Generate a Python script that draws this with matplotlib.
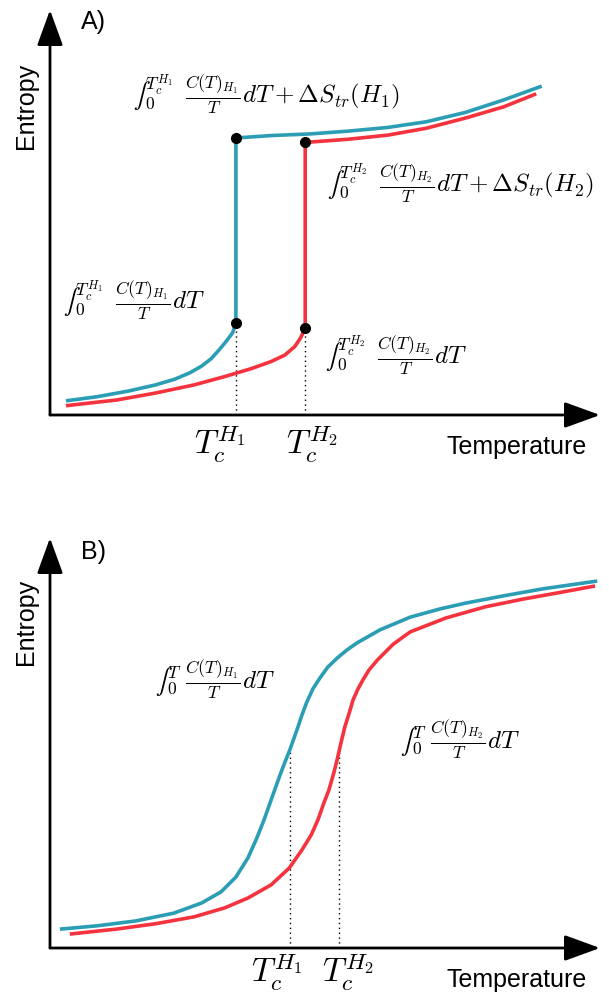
import matplotlib
matplotlib.use('Agg')
import matplotlib.pyplot as plt
import numpy as np

# ---- data (arbitrary units, temperature 0-100, entropy 0-100) ----
# panel A: first-order transition, low-T branch + high-T branch
a_blue_low_T = [2.9, 8.5, 14.2, 19.1, 22.6, 25.4, 27.6, 29.3, 30.7, 32.1, 33.2, 33.8]
a_blue_low_S = [3.5, 4.5, 5.9, 7.4, 8.8, 10.4, 12.1, 13.9, 16.0, 18.3, 20.3, 22.7]
a_blue_high_T = [33.8, 40.2, 47.3, 54.3, 61.4, 68.4, 75.5, 82.5, 89.4]
a_blue_high_S = [68.4, 69.0, 69.4, 70.1, 71.0, 72.4, 74.7, 77.8, 81.2]

a_red_low_T = [2.9, 12.1, 19.1, 26.1, 31.8, 36.7, 40.2, 42.7, 44.5, 45.5, 46.4]
a_red_low_S = [2.3, 3.7, 5.4, 7.4, 9.5, 11.5, 13.2, 14.8, 16.9, 18.9, 21.4]
a_red_high_T = [46.4, 54.3, 61.4, 68.4, 75.5, 82.5, 88.4]
a_red_high_S = [67.3, 68.1, 69.1, 70.8, 73.3, 76.1, 79.3]

# panel B: continuous transition
b_blue_T = [1.8, 8.5, 15.6, 22.5, 27.6, 31.1, 33.8, 36.0, 37.6, 38.9, 40.2, 41.5, 42.5,
            43.6, 44.9, 45.8, 46.7, 47.8, 49.1, 50.5, 52.2, 54.0, 55.8, 60.0, 65.5,
            70.9, 75.5, 82.5, 89.6, 99.5]
b_blue_S = [4.6, 5.4, 6.6, 8.5, 11.0, 13.7, 17.3, 22.0, 26.8, 31.2, 36.1, 41.0, 44.6,
            48.3, 53.2, 56.8, 60.0, 63.2, 65.9, 68.5, 70.7, 72.7, 74.4, 77.6, 80.7,
            82.7, 84.1, 85.9, 87.6, 89.5]
b_red_T = [3.6, 12.0, 19.1, 26.2, 31.8, 36.0, 40.2, 43.5, 45.8, 47.5, 48.7, 49.8, 50.7,
           51.6, 52.2, 52.9, 53.6, 54.4, 55.1, 56.0, 56.9, 58.0, 59.5, 62.4, 65.5,
           72.0, 79.1, 86.0, 93.1, 99.1]
b_red_S = [3.4, 4.6, 5.9, 7.6, 9.8, 12.2, 15.4, 19.5, 23.9, 27.6, 31.2, 35.4, 38.5,
           42.7, 45.9, 50.0, 53.9, 57.3, 60.5, 63.2, 65.4, 67.8, 70.2, 74.1, 77.1,
           80.5, 83.2, 85.1, 86.8, 88.3]
b_tc = [43.6, 52.6]

tc_labels = [r'$T_c^{H_1}$', r'$T_c^{H_2}$']

blue = '#2b9db4'
red = '#f5333f'

plt.rcParams['font.family'] = ['Liberation Sans', 'DejaVu Sans']
plt.rcParams['mathtext.fontset'] = 'cm'

W, H = 609, 996
fig = plt.figure(figsize=(W / 100, H / 100), dpi=100)


def px(x, y):
    # pixel position -> figure fraction
    return x / W, 1 - y / H


def axis_arrows(ax):
    ap = dict(arrowstyle='-|>,head_length=1.1,head_width=0.4', mutation_scale=20,
              lw=2, color='k', shrinkA=0, shrinkB=0)
    ax.annotate('', xy=(1, 0), xytext=(0, 0), xycoords='axes fraction', arrowprops=ap)
    ax.annotate('', xy=(0, 1), xytext=(0, 0), xycoords='axes fraction', arrowprops=ap)
    ax.set_xlim(0, 100)
    ax.set_ylim(0, 100)
    ax.axis('off')


lw = 2.6
line_kw = dict(lw=lw, clip_on=False, zorder=3, solid_joinstyle='round',
               solid_capstyle='butt')
dot_kw = dict(color='k', lw=1, ls=(0, (1, 2.5)), zorder=2)

# ---------------- panel A ----------------
axA = fig.add_axes([50 / W, (H - 415) / H, 550 / W, 405 / H])
axis_arrows(axA)
axA.plot(a_blue_low_T + a_blue_high_T, a_blue_low_S + a_blue_high_S, color=blue, **line_kw)
axA.plot(a_red_low_T + a_red_high_T, a_red_low_S + a_red_high_S, color=red, **line_kw)
for T, S in [(a_blue_low_T[-1], a_blue_low_S[-1]), (a_red_low_T[-1], a_red_low_S[-1])]:
    axA.plot([T, T], [0, S], **dot_kw)
dots_T = [a_blue_low_T[-1], a_blue_high_T[0], a_red_low_T[-1], a_red_high_T[0]]
dots_S = [a_blue_low_S[-1], a_blue_high_S[0], a_red_low_S[-1], a_red_high_S[0]]
axA.plot(dots_T, dots_S, 'o', color='k', ms=7, zorder=4, clip_on=False)

# ---------------- panel B ----------------
axB = fig.add_axes([50 / W, 48 / H, 550 / W, 410 / H])
axis_arrows(axB)
axB.plot(b_blue_T, b_blue_S, color=blue, **line_kw)
axB.plot(b_red_T, b_red_S, color=red, **line_kw)
for T, (xs, ys) in zip(b_tc, [(b_blue_T, b_blue_S), (b_red_T, b_red_S)]):
    axB.plot([T, T], [0, np.interp(T, xs, ys)], **dot_kw)

# ---------------- texts ----------------
for y_ent, y_lab, lab, y_temp in [(106, 22, 'A)', 447), (622, 552, 'B)', 980)]:
    fig.text(*px(26, y_ent), 'Entropy', rotation=90, ha='center', va='center', fontsize=18)
    fig.text(*px(81, y_lab), lab, ha='left', va='center', fontsize=18)
    fig.text(*px(587, y_temp), 'Temperature', ha='right', va='center', fontsize=18)

for (x, y), s in zip([(220, 444), (312, 444)], tc_labels):
    fig.text(*px(x, y), s, ha='center', va='center', fontsize=24)
for (x, y), s in zip([(277, 972), (348, 972)], tc_labels):
    fig.text(*px(x, y), s, ha='center', va='center', fontsize=24)

fs = 18
fig.text(*px(133, 95), r'$∫_0^{T_c^{H_1}}\;\,\frac{C(T)_{H_1}}{T}dT + \Delta S_{tr}(H_1)$',
         ha='left', va='center', fontsize=fs)
fig.text(*px(327, 184), r'$∫_0^{T_c^{H_2}}\;\,\frac{C(T)_{H_2}}{T}dT + \Delta S_{tr}(H_2)$',
         ha='left', va='center', fontsize=fs)
fig.text(*px(63, 301), r'$∫_0^{T_c^{H_1}}\;\,\frac{C(T)_{H_1}}{T}dT$',
         ha='left', va='center', fontsize=fs)
fig.text(*px(325, 356), r'$∫_0^{T_c^{H_2}}\;\,\frac{C(T)_{H_2}}{T}dT$',
         ha='left', va='center', fontsize=fs)
fig.text(*px(155, 680), r'$∫_0^{T}\;\frac{C(T)_{H_1}}{T}dT$',
         ha='left', va='center', fontsize=fs)
fig.text(*px(400, 740), r'$∫_0^{T}\;\frac{C(T)_{H_2}}{T}dT$',
         ha='left', va='center', fontsize=fs)

fig.savefig('out.png', dpi=100)
